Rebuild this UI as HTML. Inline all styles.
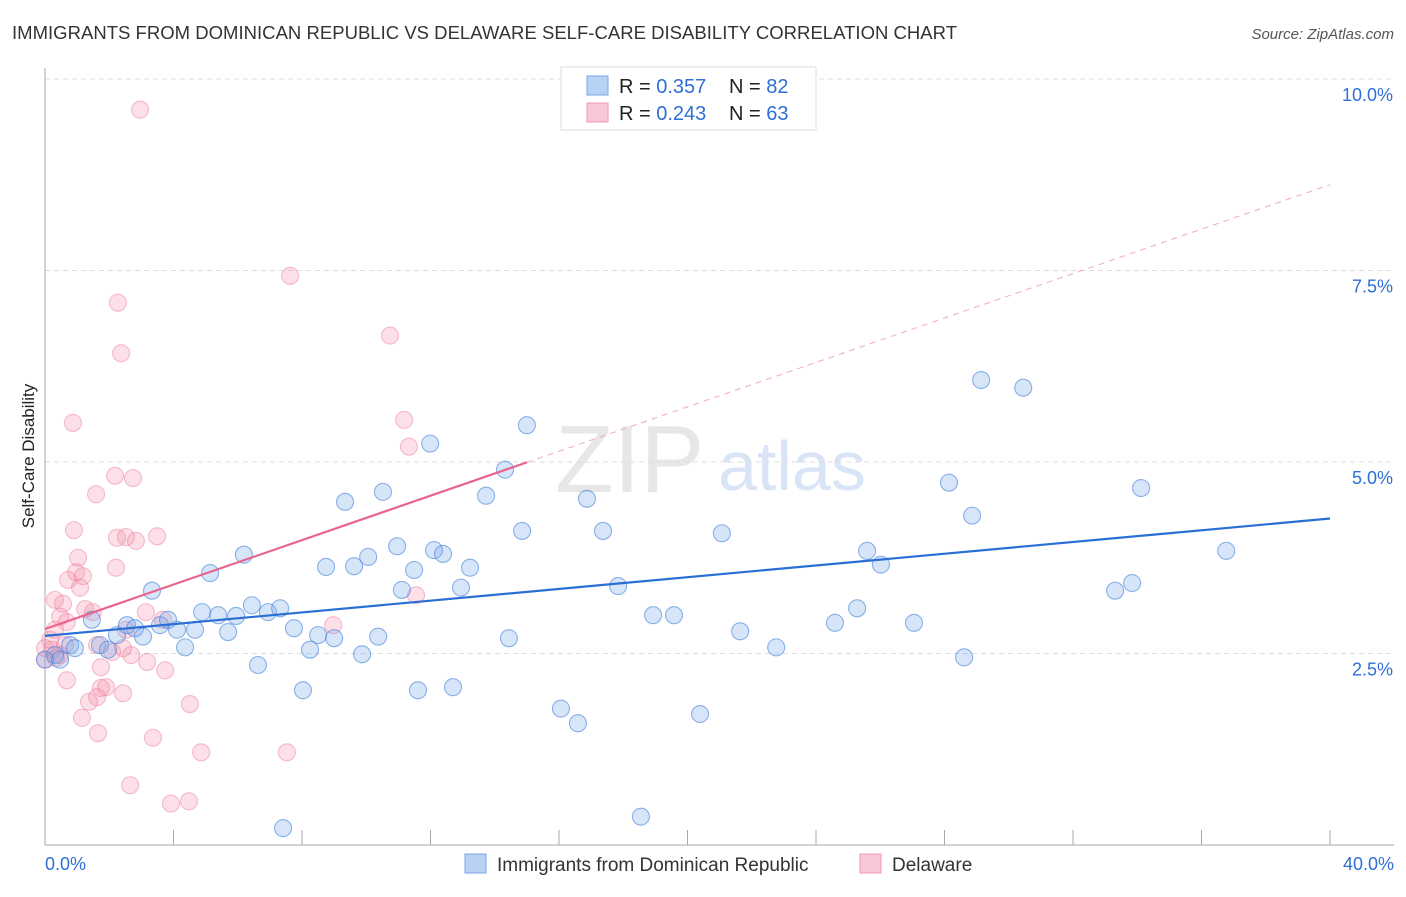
<!DOCTYPE html>
<html><head><meta charset="utf-8"><style>
body{margin:0;background:#fff;font-family:"Liberation Sans",sans-serif}
svg text{font-family:"Liberation Sans",sans-serif}
</style></head><body>
<svg id="c" width="1406" height="892">
<text x="12" y="39" font-size="18.5" fill="#333" textLength="945">IMMIGRANTS FROM DOMINICAN REPUBLIC VS DELAWARE SELF-CARE DISABILITY CORRELATION CHART</text>
<text x="1394" y="39" font-size="15" fill="#555" font-style="italic" text-anchor="end">Source: ZipAtlas.com</text>
<text x="34" y="456" font-size="17" fill="#222" text-anchor="middle" transform="rotate(-90 34 456)">Self-Care Disability</text>
<g id="wm"><text x="555" y="492" font-size="96" fill="#ddd" font-family="Liberation Serif" opacity="0.7">ZIP</text><text x="718" y="490" font-size="70" fill="#c9daf3" opacity="0.7">atlas</text></g>
<g id="grid"></g><g id="axes"></g><g id="pts"></g><g id="lines"></g>
<g>
<rect x="561" y="67" width="255" height="63" fill="#fff" stroke="#ddd"/>
<rect x="587" y="76" width="21" height="19" fill="#b8d2f5" stroke="#7aa6e6"/>
<rect x="587" y="103" width="21" height="19" fill="#fac7d6" stroke="#f09ab4"/>
<text x="619" y="93" font-size="20" fill="#222">R = <tspan fill="#2f6fd6">0.357</tspan></text>
<text x="729" y="93" font-size="20" fill="#222">N = <tspan fill="#2f6fd6">82</tspan></text>
<text x="619" y="120" font-size="20" fill="#222">R = <tspan fill="#2f6fd6">0.243</tspan></text>
<text x="729" y="120" font-size="20" fill="#222">N = <tspan fill="#2f6fd6">63</tspan></text>
</g>
<g>
<rect x="465" y="854" width="21" height="19" fill="#b8d2f5" stroke="#7aa6e6"/>
<text x="497" y="871" font-size="19" fill="#333">Immigrants from Dominican Republic</text>
<rect x="860" y="854" width="21" height="19" fill="#fac7d6" stroke="#f09ab4"/>
<text x="892" y="871" font-size="19" fill="#333">Delaware</text>
</g>
</svg>
<script>
const blueX=[0,.31,.47,.78,.93,1.46,1.71,1.96,2.24,2.55,2.80,3.05,3.33,3.58,3.83,4.11,4.36,4.67,4.89,5.14,5.39,5.70,5.95,6.19,6.44,6.63,6.94,7.32,7.75,8.03,8.25,8.50,8.75,9.00,9.34,9.62,9.87,10.06,10.37,10.52,10.96,11.11,11.49,11.61,11.99,12.11,12.39,12.70,12.95,13.23,13.73,14.32,14.44,14.85,15.00,16.06,16.59,16.87,17.37,17.84,18.55,18.93,19.58,20.39,21.07,21.64,22.76,24.59,25.28,25.59,26.02,27.05,28.14,28.61,28.86,29.14,30.45,33.31,33.84,34.12,36.77,7.41];
const blueY=[2.42,2.48,2.42,2.61,2.57,2.94,2.61,2.55,2.74,2.87,2.83,2.72,3.32,2.87,2.94,2.81,2.58,2.81,3.04,3.55,3.00,2.78,2.99,3.79,3.13,2.35,3.04,3.09,2.83,2.02,2.55,2.74,3.63,2.70,4.48,3.64,2.49,3.76,2.72,4.61,3.90,3.33,3.59,2.02,5.24,3.85,3.80,2.06,3.36,3.62,4.56,4.90,2.70,4.10,5.48,1.78,1.59,4.52,4.10,3.38,0.37,3.00,3.00,1.71,4.07,2.79,2.58,2.90,3.09,3.84,3.66,2.90,4.73,2.45,4.30,6.07,5.97,3.32,3.42,4.66,3.84,0.22];
const pinkX=[2.96,7.63,2.27,2.37,10.74,11.18,.87,11.33,2.18,2.74,1.59,.90,2.24,2.52,2.83,3.49,1.03,2.21,.97,.72,1.18,1.09,.31,.56,1.49,1.25,.47,.68,3.14,3.67,8.97,11.55,1.62,2.52,.22,.34,.47,0,2.09,2.68,3.18,3.74,1.74,.68,1.74,1.90,2.43,1.62,1.37,4.51,1.15,1.65,3.36,4.86,7.53,2.65,3.92,4.48,.16,.31,.62,0,2.43];
const pinkY=[9.60,7.43,7.08,6.42,6.65,5.55,5.51,5.20,4.82,4.79,4.58,4.11,4.01,4.02,3.97,4.03,3.75,3.62,3.56,3.46,3.51,3.36,3.20,3.15,3.04,3.08,2.98,2.91,3.04,2.94,2.87,3.26,2.61,2.81,2.55,2.44,2.48,2.57,2.52,2.48,2.39,2.28,2.32,2.15,2.05,2.06,1.98,1.93,1.87,1.84,1.66,1.46,1.40,1.21,1.21,0.78,0.54,0.57,2.68,2.81,2.61,2.42,2.57];
const yTicks=[2.5,5.0,7.5,10.0];
const xTicks=[0,4,8,12,16,20,24,28,32,36,40];
const blueFit=[2.73,0.0383];
const pinkFit=[2.82,0.145];
const NS='http://www.w3.org/2000/svg';
const X=v=>45+v/40*1285, Y=v=>845-v/2.5*191.5;
function mk(t,a,p){const e=document.createElementNS(NS,t);for(const k in a)e.setAttribute(k,a[k]);p.appendChild(e);return e;}
const grid=document.getElementById('grid'),axes=document.getElementById('axes'),pts=document.getElementById('pts'),lines=document.getElementById('lines');
yTicks.forEach(t=>{const l=mk('line',{x1:45,x2:1394,y1:Y(t),y2:Y(t),stroke:'#ddd','stroke-dasharray':'5,4'},grid);


const tx=mk('text',{x:1393,y:Y(t)+22,'font-size':18,fill:'#2f6fd6','text-anchor':'end'},axes);tx.textContent=t.toFixed(1)+'%';

});
mk('line',{x1:45,x2:45,y1:68,y2:845,stroke:'#aaa'},axes);
mk('line',{x1:45,x2:1394,y1:845,y2:845,stroke:'#aaa'},axes);
xTicks.forEach(t=>{const l=mk('line',{x1:X(t),x2:X(t),y1:830,y2:845,stroke:'#aaa'},axes);

});
[[0,'start',45],[40,'end',1394]].forEach(([t,a,x])=>{const tx=mk('text',{x:x,y:870,'font-size':18,fill:'#2f6fd6','text-anchor':a},axes);tx.textContent=t.toFixed(1)+'%';

});
pinkX.forEach((x,i)=>{const c=mk('circle',{cx:X(x),cy:Y(pinkY[i]),r:8.5,fill:'rgba(244,140,170,0.28)',stroke:'rgba(236,130,160,0.5)','stroke-width':1.1},pts);

});
blueX.forEach((x,i)=>{const c=mk('circle',{cx:X(x),cy:Y(blueY[i]),r:8.5,fill:'rgba(110,160,230,0.28)',stroke:'rgba(70,130,220,0.6)','stroke-width':1.1},pts);

});
const bl=mk('line',{x1:X(0),y1:Y(blueFit[0]),x2:X(40),y2:Y(blueFit[0]+40*blueFit[1]),stroke:'#2a6fd6','stroke-width':2.2},lines);


const pl=mk('line',{x1:X(0),y1:Y(pinkFit[0]),x2:X(15),y2:Y(pinkFit[0]+15*pinkFit[1]),stroke:'#e8648f','stroke-width':2.2},lines);


const pd=mk('line',{x1:X(15),y1:Y(pinkFit[0]+15*pinkFit[1]),x2:X(40),y2:Y(pinkFit[0]+40*pinkFit[1]),stroke:'#eeaabf','stroke-width':1,'stroke-dasharray':'6,5'},lines);


</script>
</body></html>
